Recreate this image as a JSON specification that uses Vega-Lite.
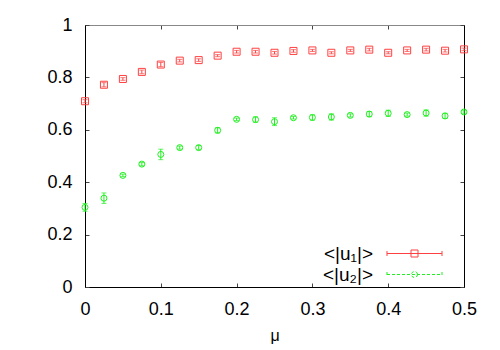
{
  "$schema": "https://vega.github.io/schema/vega-lite/v6.json",
  "autosize": {"type": "none"},
  "width": 379,
  "height": 262,
  "padding": {"left": 85, "top": 25, "right": 36, "bottom": 63},
  "background": "white",
  "config": {
    "view": {"stroke": null},
    "font": "Liberation Sans",
    "axis": {"grid": false, "labelFont": "Liberation Sans", "labelFontSize": 18, "labelColor": "black", "labelFlush": false, "labelOverlap": false, "domainColor": "black", "domainWidth": 1, "tickColor": "#444", "tickSize": -4, "tickWidth": 1, "labelPadding": 17, "format": "~g"}
  },
  "data": {"values": [
    {"mu": 0.0, "s": "<|u₁|>", "v": 0.709, "e": 0.006},
    {"mu": 0.025, "s": "<|u₁|>", "v": 0.772, "e": 0.008},
    {"mu": 0.05, "s": "<|u₁|>", "v": 0.794, "e": 0.005},
    {"mu": 0.075, "s": "<|u₁|>", "v": 0.821, "e": 0.007},
    {"mu": 0.1, "s": "<|u₁|>", "v": 0.849, "e": 0.008},
    {"mu": 0.125, "s": "<|u₁|>", "v": 0.864, "e": 0.005},
    {"mu": 0.15, "s": "<|u₁|>", "v": 0.866, "e": 0.005},
    {"mu": 0.175, "s": "<|u₁|>", "v": 0.883, "e": 0.004},
    {"mu": 0.2, "s": "<|u₁|>", "v": 0.898, "e": 0.005},
    {"mu": 0.225, "s": "<|u₁|>", "v": 0.898, "e": 0.005},
    {"mu": 0.25, "s": "<|u₁|>", "v": 0.894, "e": 0.005},
    {"mu": 0.275, "s": "<|u₁|>", "v": 0.901, "e": 0.005},
    {"mu": 0.3, "s": "<|u₁|>", "v": 0.903, "e": 0.004},
    {"mu": 0.325, "s": "<|u₁|>", "v": 0.894, "e": 0.004},
    {"mu": 0.35, "s": "<|u₁|>", "v": 0.903, "e": 0.004},
    {"mu": 0.375, "s": "<|u₁|>", "v": 0.906, "e": 0.005},
    {"mu": 0.4, "s": "<|u₁|>", "v": 0.894, "e": 0.004},
    {"mu": 0.425, "s": "<|u₁|>", "v": 0.903, "e": 0.004},
    {"mu": 0.45, "s": "<|u₁|>", "v": 0.906, "e": 0.005},
    {"mu": 0.475, "s": "<|u₁|>", "v": 0.902, "e": 0.005},
    {"mu": 0.5, "s": "<|u₁|>", "v": 0.907, "e": 0.005},
    {"mu": 0.0, "s": "<|u₂|>", "v": 0.304, "e": 0.015},
    {"mu": 0.025, "s": "<|u₂|>", "v": 0.339, "e": 0.02},
    {"mu": 0.05, "s": "<|u₂|>", "v": 0.426, "e": 0.005},
    {"mu": 0.075, "s": "<|u₂|>", "v": 0.469, "e": 0.006},
    {"mu": 0.1, "s": "<|u₂|>", "v": 0.506, "e": 0.02},
    {"mu": 0.125, "s": "<|u₂|>", "v": 0.532, "e": 0.006},
    {"mu": 0.15, "s": "<|u₂|>", "v": 0.532, "e": 0.008},
    {"mu": 0.175, "s": "<|u₂|>", "v": 0.598, "e": 0.01},
    {"mu": 0.2, "s": "<|u₂|>", "v": 0.64, "e": 0.005},
    {"mu": 0.225, "s": "<|u₂|>", "v": 0.639, "e": 0.01},
    {"mu": 0.25, "s": "<|u₂|>", "v": 0.631, "e": 0.015},
    {"mu": 0.275, "s": "<|u₂|>", "v": 0.646, "e": 0.005},
    {"mu": 0.3, "s": "<|u₂|>", "v": 0.647, "e": 0.01},
    {"mu": 0.325, "s": "<|u₂|>", "v": 0.649, "e": 0.012},
    {"mu": 0.35, "s": "<|u₂|>", "v": 0.655, "e": 0.006},
    {"mu": 0.375, "s": "<|u₂|>", "v": 0.66, "e": 0.01},
    {"mu": 0.4, "s": "<|u₂|>", "v": 0.663, "e": 0.012},
    {"mu": 0.425, "s": "<|u₂|>", "v": 0.658, "e": 0.006},
    {"mu": 0.45, "s": "<|u₂|>", "v": 0.664, "e": 0.012},
    {"mu": 0.475, "s": "<|u₂|>", "v": 0.653, "e": 0.01},
    {"mu": 0.5, "s": "<|u₂|>", "v": 0.668, "e": 0.005}
  ]},
  "resolve": {"axis": {"x": "independent", "y": "independent"}},
  "layer": [
    {
      "mark": {"type": "errorbar", "ticks": {"size": 5}, "thickness": 1},
      "encoding": {
        "x": {"field": "mu", "type": "quantitative", "scale": {"domain": [0, 0.5], "nice": false, "zero": false}, "axis": null},
        "y": {"field": "v", "type": "quantitative", "scale": {"domain": [0, 1], "nice": false, "zero": false}, "axis": null},
        "yError": {"field": "e"},
        "color": {
          "field": "s", "type": "nominal",
          "scale": {"domain": ["<|u₁|>", "<|u₂|>"], "range": ["#ff4040", "#20f020"]},
          "legend": {
            "title": null, "orient": "none", "legendX": 320, "legendY": 219, "padding": 0,
            "labelFont": "Liberation Sans", "labelFontSize": 19, "labelColor": "black",
            "labelAlign": "right", "labelOffset": -51, "symbolSize": 49, "rowPadding": 1,
            "symbolFillColor": "transparent",
            "encode": {"symbols": {"update": {
              "shape": {"signal": "indexof(datum.value, '₂') >= 0 ? 'M-7.86,0H7.86M-7.86,-0.71V0.71M7.86,-0.71V0.71M0.86,0A0.86,0.86,0,1,1,-0.86,0A0.86,0.86,0,1,1,0.86,0Z' : 'M-7.86,0H7.86M-7.86,-0.71V0.71M7.86,-0.71V0.71M-1,-1H1V1H-1Z'"},
              "strokeDash": {"signal": "indexof(datum.value, '₂') >= 0 ? [3,2] : []"},
              "stroke": {"signal": "indexof(datum.value, '₂') >= 0 ? '#20f020' : '#ff7070'"},
              "fill": {"value": "transparent"},
              "fillOpacity": {"value": 0},
              "strokeOpacity": {"value": 1},
              "strokeWidth": {"value": 1},
              "opacity": {"value": 1}
            }}}
          }
        }
      }
    },
    {
      "transform": [{"filter": "indexof(datum.s, '₁') >= 0"}],
      "mark": {"type": "point", "shape": "square", "size": 49, "filled": false, "strokeWidth": 1, "opacity": 1},
      "encoding": {
        "x": {"field": "mu", "type": "quantitative", "title": "μ",
              "axis": {"orient": "bottom", "values": [0, 0.1, 0.2, 0.3, 0.4, 0.5], "titleFont": "Liberation Sans", "titleFontSize": 16, "titleFontWeight": "normal", "titleColor": "black", "titlePadding": 9}},
        "y": {"field": "v", "type": "quantitative", "title": null,
              "axis": {"orient": "left", "values": [0, 0.2, 0.4, 0.6, 0.8, 1]}},
        "color": {"field": "s", "type": "nominal"}
      }
    },
    {
      "transform": [{"filter": "indexof(datum.s, '₂') >= 0"}],
      "mark": {"type": "point", "shape": "circle", "size": 36, "filled": false, "strokeWidth": 1, "opacity": 1},
      "encoding": {
        "x": {"field": "mu", "type": "quantitative", "title": null,
              "axis": {"orient": "top", "values": [0, 0.1, 0.2, 0.3, 0.4, 0.5], "labels": false, "domainColor": "#888"}},
        "y": {"field": "v", "type": "quantitative", "title": null,
              "axis": {"orient": "right", "values": [0, 0.2, 0.4, 0.6, 0.8, 1], "labels": false}},
        "color": {"field": "s", "type": "nominal"}
      }
    }
  ]
}
